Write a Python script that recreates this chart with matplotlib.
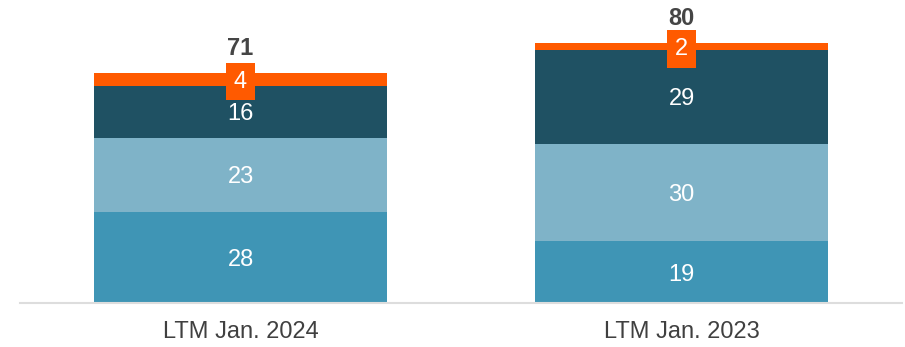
import matplotlib.pyplot as plt
import numpy as np

plt.rcParams['font.family'] = ['Liberation Sans', 'DejaVu Sans']

categories = ["LTM Jan. 2024", "LTM Jan. 2023"]
seg_a = [28, 19]   # bottom
seg_b = [23, 30]
seg_c = [16, 29]
seg_d = [4, 2]     # top, orange

colors = ["#3F95B5", "#7FB3C8", "#1F5163", "#FF5A00"]

fig = plt.figure(figsize=(9.05, 3.47), dpi=100)
ax = fig.add_axes([20 / 905, 44 / 347, 882 / 905, 303 / 347])

x = np.arange(len(categories))
width = 0.665
bottom = np.zeros(len(categories))
for vals, col in zip([seg_a, seg_b, seg_c, seg_d], colors):
    vals = np.array(vals, dtype=float)
    ax.bar(x, vals, width, bottom=bottom, color=col, linewidth=0)
    for xi, b, v in zip(x, bottom, vals):
        if col == colors[3]:
            ax.text(xi, b + v / 2, f"{int(v)}", ha="center", va="center_baseline",
                    color="white", fontsize=17,
                    bbox=dict(boxstyle="square,pad=0.33", fc=col, ec="none"))
        else:
            ax.text(xi, b + v / 2, f"{int(v)}", ha="center", va="center_baseline",
                    color="white", fontsize=17)
    bottom += vals

for xi, tot in zip(x, bottom):
    ax.text(xi, tot + 5.6, f"{int(tot)}", ha="center", va="baseline",
            color="#454545", fontsize=17, fontweight="bold")

ax.set_xlim(-0.5, 1.5)
ax.set_ylim(0, 93.4)
ax.set_xticks(x)
ax.set_xticklabels(categories, fontsize=17, color="#404040")
ax.tick_params(axis="x", length=0, pad=13)
ax.set_yticks([])
for s in ["top", "right", "left"]:
    ax.spines[s].set_visible(False)
ax.spines["bottom"].set_color("#DDDDDD")
ax.spines["bottom"].set_linewidth(1.5)

fig.savefig("out.png", dpi=100)
